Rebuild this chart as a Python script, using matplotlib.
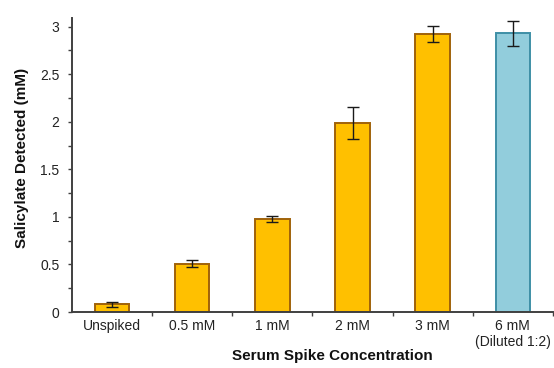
import matplotlib
matplotlib.use("Agg")
import matplotlib.pyplot as plt
import numpy as np
from matplotlib.ticker import MultipleLocator, FixedLocator, NullFormatter

plt.rcParams["font.family"] = ["Liberation Sans", "DejaVu Sans"]

# data
labels = ["Unspiked", "0.5 mM", "1 mM", "2 mM", "3 mM", "6 mM\n(Diluted 1:2)"]
values = [0.08, 0.51, 0.98, 1.985, 2.92, 2.93]
errors = [0.022, 0.04, 0.03, 0.165, 0.085, 0.13]
fills = ["#FFC000"] * 5 + ["#92CDDC"]
edges = ["#A0620A"] * 5 + ["#3E8FA6"]

fig = plt.figure(figsize=(5.54, 3.68), dpi=100)
ax = fig.add_axes([0.130, 0.152, 0.868, 0.799])

x = np.arange(len(labels))
ax.bar(x, values, width=0.43, color=fills, edgecolor=edges, linewidth=1.4, zorder=2)
ax.errorbar(x, values, yerr=errors, fmt="none", ecolor="#1a1a1a",
            elinewidth=1.0, capsize=4, capthick=1.0, zorder=3)

ax.set_xlim(-0.5, 5.5)
ax.set_ylim(0, 3.09)

# y axis
ax.yaxis.set_minor_locator(MultipleLocator(0.25))
ax.set_yticks([0, 0.5, 1, 1.5, 2, 2.5, 3])
ax.set_yticklabels(["0", "0.5", "1", "1.5", "2", "2.5", "3"])
ax.tick_params(axis="y", which="both", direction="out", length=3, width=1,
               color="#404040", labelsize=10, pad=6, labelcolor="#222222")

# x axis: labels centred, tick marks on category boundaries
ax.set_xticks(x)
ax.set_xticklabels(labels)
ax.tick_params(axis="x", which="major", length=0, labelsize=10, pad=5,
               labelcolor="#222222")
ax.xaxis.set_minor_locator(FixedLocator(np.arange(0.5, 5.6, 1.0)))
ax.xaxis.set_minor_formatter(NullFormatter())
ax.tick_params(axis="x", which="minor", direction="out", length=3, width=1,
               color="#404040")

for side in ["top", "right"]:
    ax.spines[side].set_visible(False)
for side in ["left", "bottom"]:
    ax.spines[side].set_color("#404040")
    ax.spines[side].set_linewidth(1.4)

# axis titles placed in figure coords to match the reference
fig.text(332 / 554, 1 - 356 / 368, "Serum Spike Concentration", fontsize=11,
         fontweight="bold", ha="center", va="center", color="#111111")
fig.text(22 / 554, 1 - 158 / 368, "Salicylate Detected (mM)", fontsize=11,
         fontweight="bold", ha="center", va="center", rotation=90, color="#111111")

fig.savefig("out.png", dpi=100)
